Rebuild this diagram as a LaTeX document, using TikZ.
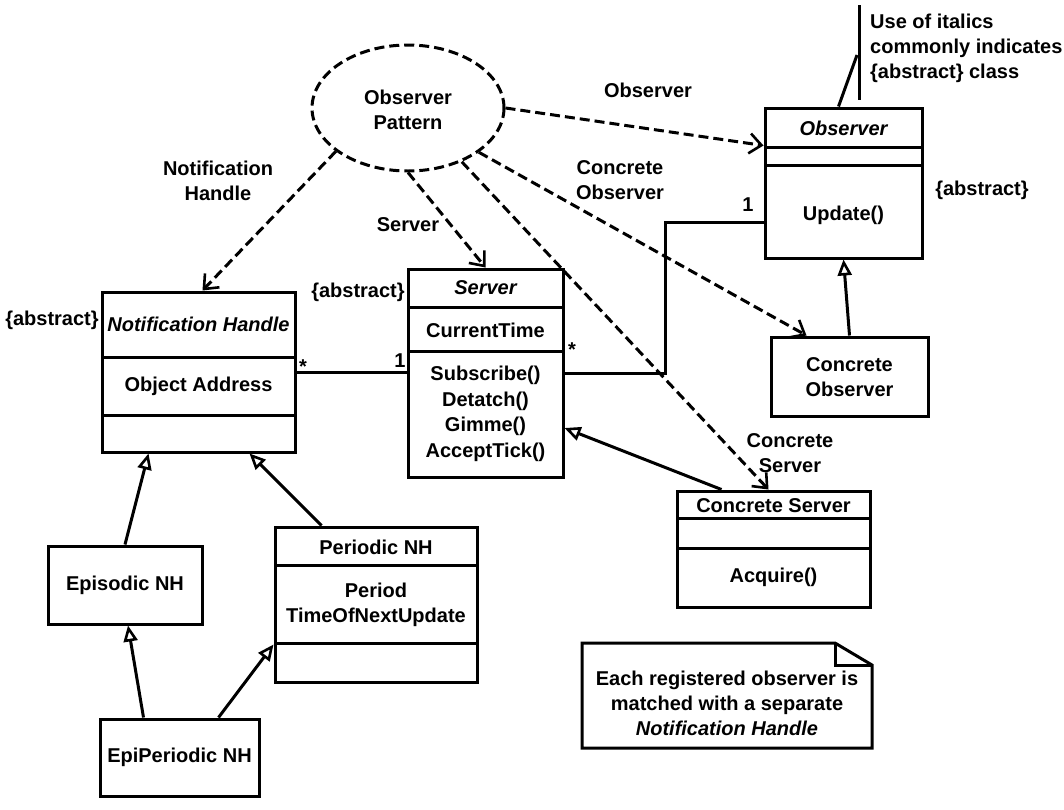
\documentclass[tikz,border=0pt]{standalone}
\usepackage{fontspec}
\setmainfont{Liberation Sans}
\usetikzlibrary{arrows.meta,shapes.geometric,calc}

\begin{document}
\begin{tikzpicture}[x=1pt,y=-1pt,
  every node/.style={font=\fontsize{20}{25}\selectfont\bfseries, inner sep=0pt, align=center},
  cls/.style={draw, line width=3pt, rectangle},
  ln/.style={line width=3pt},
  dep/.style={line width=3pt, dash pattern=on 10pt off 5pt,
    -{Straight Barb[length=12pt,width=20pt,line width=2.6pt]}},
  gen/.style={line width=3pt,
    -{Triangle[open,length=16pt,width=14pt,line width=2.6pt]}}
]
\useasboundingbox (0,0) rectangle (1064,809);

% Observer Pattern ellipse
\node[ellipse, draw, line width=3pt, dash pattern=on 10pt off 5pt,
      minimum width=192pt, minimum height=126pt] (ell) at (408,108) {};
\node (elltxt) at (408,110) {Observer\\Pattern};

% Observer class
\node[cls, minimum width=157pt, minimum height=150pt] (obs) at (843.5,183) {};
\draw[ln] (765,147) -- (922,147);
\draw[ln] (765,165) -- (922,165);
\node (obsname) at (843.5,128) {\itshape Observer};
\node (obsop) at (843.5,215) {Update()};
\node (obsabs) at (982,190) {\{abstract\}};

% italics note
\coordinate (nt) at (859,5);
\coordinate (nb) at (859,100);
\draw[ln] (nt) -- (nb);
\draw[ln] ($(obs.north west)+(75,0)$) -- (857,55);
\node[align=left, anchor=west] (itnote) at (870,48) {Use of italics\\commonly indicates\\\{abstract\} class};

% Notification Handle
\node[cls, minimum width=193pt, minimum height=160pt] (nh) at (198.5,372) {};
\draw[ln] (102,357) -- (295,357);
\draw[ln] (102,415) -- (295,415);
\node (nhname) at (198.5,324) {\itshape Notification Handle};
\node (nhattr) at (198.5,386) {Object Address};
\node (nhabs) at (52,320) {\{abstract\}};

% Server
\node[cls, minimum width=155pt, minimum height=208pt] (srv) at (485.5,373) {};
\draw[ln] (408,307) -- (563,307);
\draw[ln] (408,351) -- (563,351);
\node (srvname) at (485.5,288) {\itshape Server};
\node (srvattr) at (485.5,330) {CurrentTime};
\node[font=\fontsize{20}{25.5}\selectfont\bfseries] (srvops) at (485.5,414) {Subscribe()\\Detatch()\\Gimme()\\AcceptTick()};
\node (srvabs) at (358,292) {\{abstract\}};

% Concrete Observer
\node[cls, minimum width=157pt, minimum height=79pt] (co) at (849.5,376.5) {};
\node (cotxt) at (849.5,377) {Concrete\\Observer};

% Concrete Server
\node[cls, minimum width=193pt, minimum height=116pt] (cs) at (773.5,549) {};
\draw[ln] (677,518) -- (870,518);
\draw[ln] (677,548) -- (870,548);
\node (csname) at (773.5,506) {Concrete Server};
\node (csop) at (773.5,577) {Acquire()};

% Periodic NH
\node[cls, minimum width=202pt, minimum height=155pt] (pnh) at (376,604.5) {};
\draw[ln] (275,565) -- (477,565);
\draw[ln] (275,643) -- (477,643);
\node (pnhname) at (376,547) {Periodic NH};
\node (pnhattr) at (376,605) {Period\\TimeOfNextUpdate};

% Episodic NH
\node[cls, minimum width=154pt, minimum height=78pt] (ep) at (125,585) {Episodic NH};

% EpiPeriodic NH
\node[cls, minimum width=159pt, minimum height=77pt] (epp) at (179.5,757.5) {EpiPeriodic NH};

% bottom note
\coordinate (na) at (582,643);
\coordinate (nbb) at (835,643);
\coordinate (nc) at (872,665);
\coordinate (nd) at (872,748);
\coordinate (ne) at (582,748);
\draw[ln, line join=miter] (na) -- (nbb) -- (nc) -- (nd) -- (ne) -- cycle;
\draw[ln] (nbb) -- (835,665) -- (nc);
\node (notetxt) at (727,703) {Each registered observer is\\matched with a separate\\\itshape Notification Handle};

% dependency arrows
\path (obs.north west) ++(0,39) coordinate (obsdep);
\draw[dep] (ell.211) -- ($(nh.north)+(4,0)$);
\draw[dep] (ell.south) -- (srv.north);
\draw[dep] (ell.315) -- ($(cs.north west)+(93,0)$);
\draw[dep] (ell.328) -- ($(co.north west)+(37,0)$);
\draw[dep] (ell.east) -- (obsdep);

% dependency labels
\node (lobs) at (648,90) {Observer};
\node (lco) at (620,180) {Concrete\\Observer};
\node (lsrv) at (408,225) {Server};
\node (lnh) at (218,181) {Notification\\Handle};
\node (lcs) at (790,453) {Concrete\\Server};

% associations
\draw[ln] (nh.east) -- (nh.east -| srv.west);
\node (m1) at (303,367) {*};
\node (m2) at (400,361) {1};
\draw[ln] (srv.east) -- (665,373) |- ($(obs.west)+(0,39)$);
\node (m3) at (572,350) {*};
\node (m4) at (748,205) {1};

% generalizations
\draw[gen] (co.north) -- (obs.south);
\draw[gen] ($(cs.north west)+(46,0)$) -- ($(srv.east)+(0,55)$);
\draw[gen] (ep.north) -- ($(nh.south west)+(48,0)$);
\draw[gen] ($(pnh.north west)+(48,0)$) -- ($(nh.south east)+(-47,0)$);
\draw[gen] ($(epp.north west)+(45,0)$) -- ($(ep.south)+(3,0)$);
\draw[gen] ($(epp.north west)+(120,0)$) -- ($(pnh.south west)+(0,-39)$);
\end{tikzpicture}
\end{document}
